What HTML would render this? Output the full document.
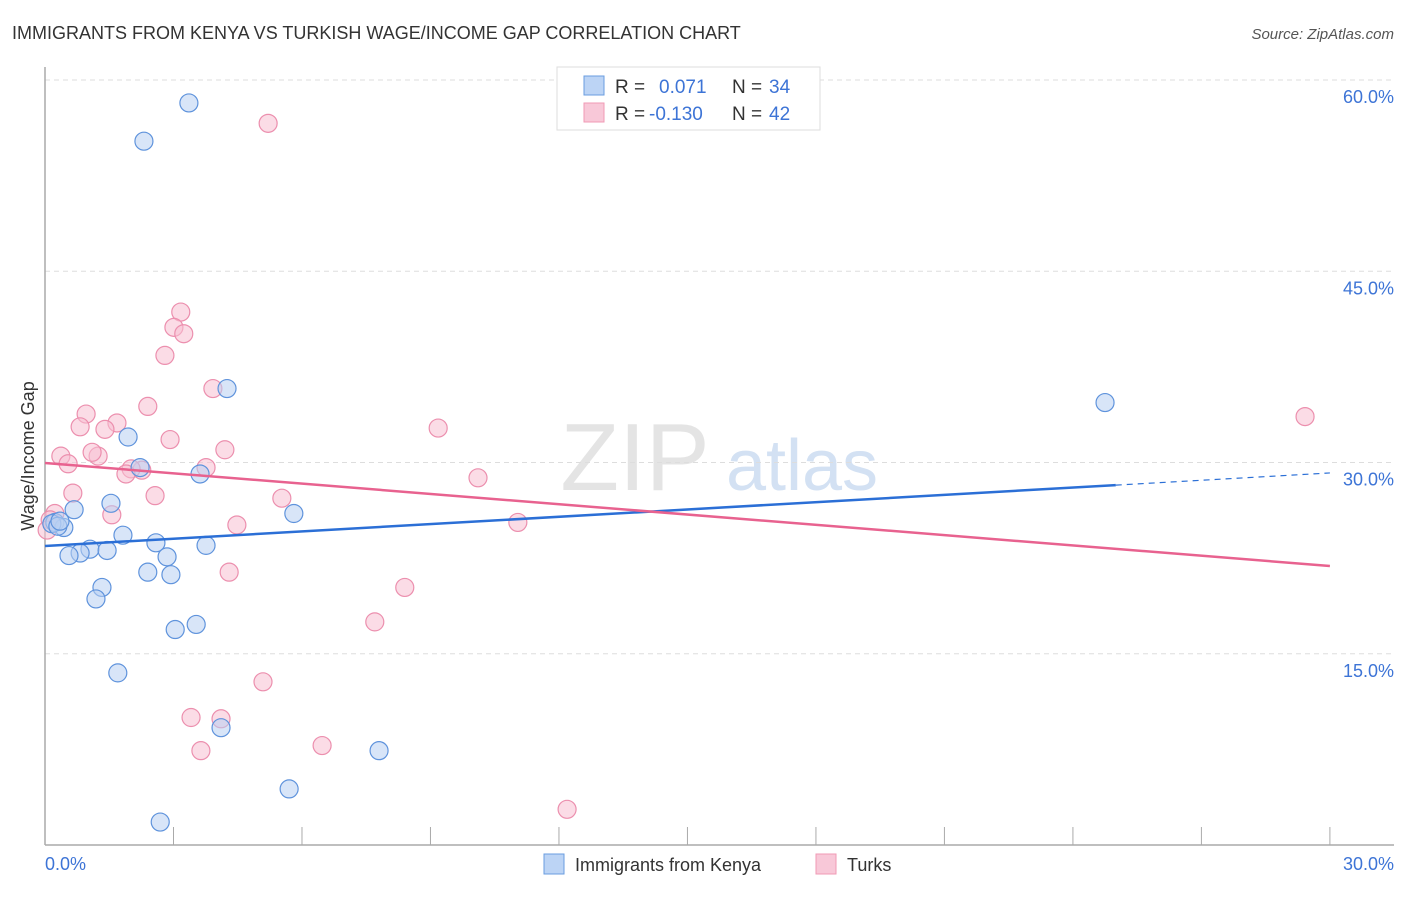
<!DOCTYPE html>
<html><head><meta charset="utf-8"><style>
body{margin:0;background:#fff;font-family:"Liberation Sans",sans-serif;}
svg text{font-family:"Liberation Sans",sans-serif;}
</style></head><body>
<svg id="chart" width="1406" height="892">
<text x="12" y="39" font-size="18" fill="#333">IMMIGRANTS FROM KENYA VS TURKISH WAGE/INCOME GAP CORRELATION CHART</text>
<text x="1394" y="39" font-size="15" fill="#555" text-anchor="end" font-style="italic">Source: ZipAtlas.com</text>
<text x="635" y="490" font-size="96" fill="#e4e4e4" font-family="Liberation Serif" text-anchor="middle">ZIP</text>
<text x="802" y="490" font-size="72" fill="#d3e1f3" text-anchor="middle">atlas</text>
<g id="grid"></g><g id="axes"></g><g id="pts"></g><g id="lines"></g>
<text transform="translate(34,456) rotate(-90)" font-size="18" fill="#333" text-anchor="middle">Wage/Income Gap</text>
<text x="45" y="870" font-size="18" fill="#3d74d6">0.0%</text>
<text x="1394" y="870" font-size="18" fill="#3d74d6" text-anchor="end">30.0%</text>
<g>
<rect x="557" y="67" width="263" height="63" fill="#fff" stroke="#ddd"/>
<rect x="584" y="76" width="20" height="19" fill="#bcd4f5" stroke="#6a9de0"/>
<rect x="584" y="103" width="20" height="19" fill="#f8c8d8" stroke="#f09ab5"/>
<text x="615" y="93" font-size="19" fill="#333">R = </text><text x="659" y="93" font-size="19" fill="#3d74d6">0.071</text>
<text x="732" y="93" font-size="19" fill="#333">N = </text><text x="769" y="93" font-size="19" fill="#3d74d6">34</text>
<text x="615" y="120" font-size="19" fill="#333">R = </text><text x="649" y="120" font-size="19" fill="#3d74d6">-0.130</text>
<text x="732" y="120" font-size="19" fill="#333">N = </text><text x="769" y="120" font-size="19" fill="#3d74d6">42</text>
</g>
<g>
<rect x="544" y="854" width="20" height="20" fill="#bcd4f5" stroke="#6a9de0"/>
<text x="575" y="871" font-size="18" fill="#333">Immigrants from Kenya</text>
<rect x="816" y="854" width="20" height="20" fill="#f8c8d8" stroke="#f09ab5"/>
<text x="847" y="871" font-size="18" fill="#333">Turks</text>
</g>
</svg>
<script>
const yTicks=[15,30,45,60];
const yTickLabels=["15.0%","30.0%","45.0%","60.0%"];
const kenyaX=[3.36,2.31,4.25,24.75,1.94,2.22,3.62,1.54,0.68,5.81,0.23,0.44,1.82,2.59,3.76,1.05,1.45,0.82,0.56,2.85,2.4,2.94,1.33,1.19,3.04,3.53,1.7,4.11,7.8,5.7,2.69,0.16,0.30,0.35];
const kenyaY=[58.2,55.2,35.8,34.7,32.0,29.6,29.1,26.8,26.3,26.0,25.3,24.9,24.3,23.7,23.5,23.2,23.1,22.9,22.7,22.6,21.4,21.2,20.2,19.3,16.9,17.3,13.5,9.2,7.4,4.4,1.8,25.2,25.0,25.4];
const turksX=[5.21,3.17,3.01,3.24,2.8,3.92,2.4,0.96,1.68,0.82,2.92,1.4,4.2,0.37,1.24,1.1,0.54,3.76,2.26,2.01,1.89,9.18,10.11,0.65,2.57,5.53,1.56,4.48,11.04,0.23,0.12,0.05,4.3,8.4,7.7,5.09,3.41,4.11,3.64,6.47,12.19,29.42];
const turksY=[56.6,41.8,40.6,40.1,38.4,35.8,34.4,33.8,33.1,32.8,31.8,32.6,31.0,30.5,30.5,30.8,29.9,29.6,29.4,29.5,29.1,32.7,28.8,27.6,27.4,27.2,25.9,25.1,25.3,26.0,25.5,24.7,21.4,20.2,17.5,12.8,10.0,9.9,7.4,7.8,2.8,33.6];
const kenyaTrend=[23.45,29.18]; const turksTrend=[29.96,21.88];
const xS=v=>45+v*42.83, yS=v=>845-v*12.75;
const NS="http://www.w3.org/2000/svg";
function mk(t,a,p){const e=document.createElementNS(NS,t);for(const k in a)e.setAttribute(k,a[k]);p.appendChild(e);return e;}
const grid=document.getElementById('grid'),axes=document.getElementById('axes'),pts=document.getElementById('pts'),lines=document.getElementById('lines');
yTicks.forEach((t,i)=>{
 const l=mk('line',{x1:45,x2:1394,y1:yS(t),y2:yS(t),stroke:'#ddd','stroke-dasharray':'5,4'},grid);
 
 
 const tx=mk('text',{x:1394,y:yS(t)+23,'font-size':18,fill:'#3d74d6','text-anchor':'end'},grid);
 tx.textContent=yTickLabels[i];
 
 
});
const ya=mk('line',{x1:45,x2:45,y1:67,y2:845,stroke:'#aaa','stroke-width':1.5},axes);


const xa=mk('line',{x1:45,x2:1394,y1:845,y2:845,stroke:'#aaa','stroke-width':1.5},axes);


for(let i=1;i<=10;i++){const t=mk('line',{x1:xS(i*3),x2:xS(i*3),y1:827,y2:845,stroke:'#aaa'},axes);
 
 }
function dots(X,Y,fill,stroke,name){X.forEach((x,i)=>{const c=mk('circle',{cx:xS(x),cy:yS(Y[i]),r:9,fill:fill,'fill-opacity':0.55,stroke:stroke,'stroke-width':1.2},pts);
 
 });}
dots(turksX,turksY,'#f8c0d2','#ec8fae','turks-point');
dots(kenyaX,kenyaY,'#b8d0f3','#5f93dc','kenya-point');
const kb=v=>kenyaTrend[0]+(kenyaTrend[1]-kenyaTrend[0])*v/30;
const l1=mk('line',{x1:xS(0),y1:yS(kb(0)),x2:xS(25),y2:yS(kb(25)),stroke:'#2b6fd6','stroke-width':2.5},lines);


const l2=mk('line',{x1:xS(25),y1:yS(kb(25)),x2:xS(30),y2:yS(kb(30)),stroke:'#2b6fd6','stroke-width':1.2,'stroke-dasharray':'6,5'},lines);


const l3=mk('line',{x1:xS(0),y1:yS(turksTrend[0]),x2:xS(30),y2:yS(turksTrend[1]),stroke:'#e8628f','stroke-width':2.5},lines);


</script>
</body></html>
